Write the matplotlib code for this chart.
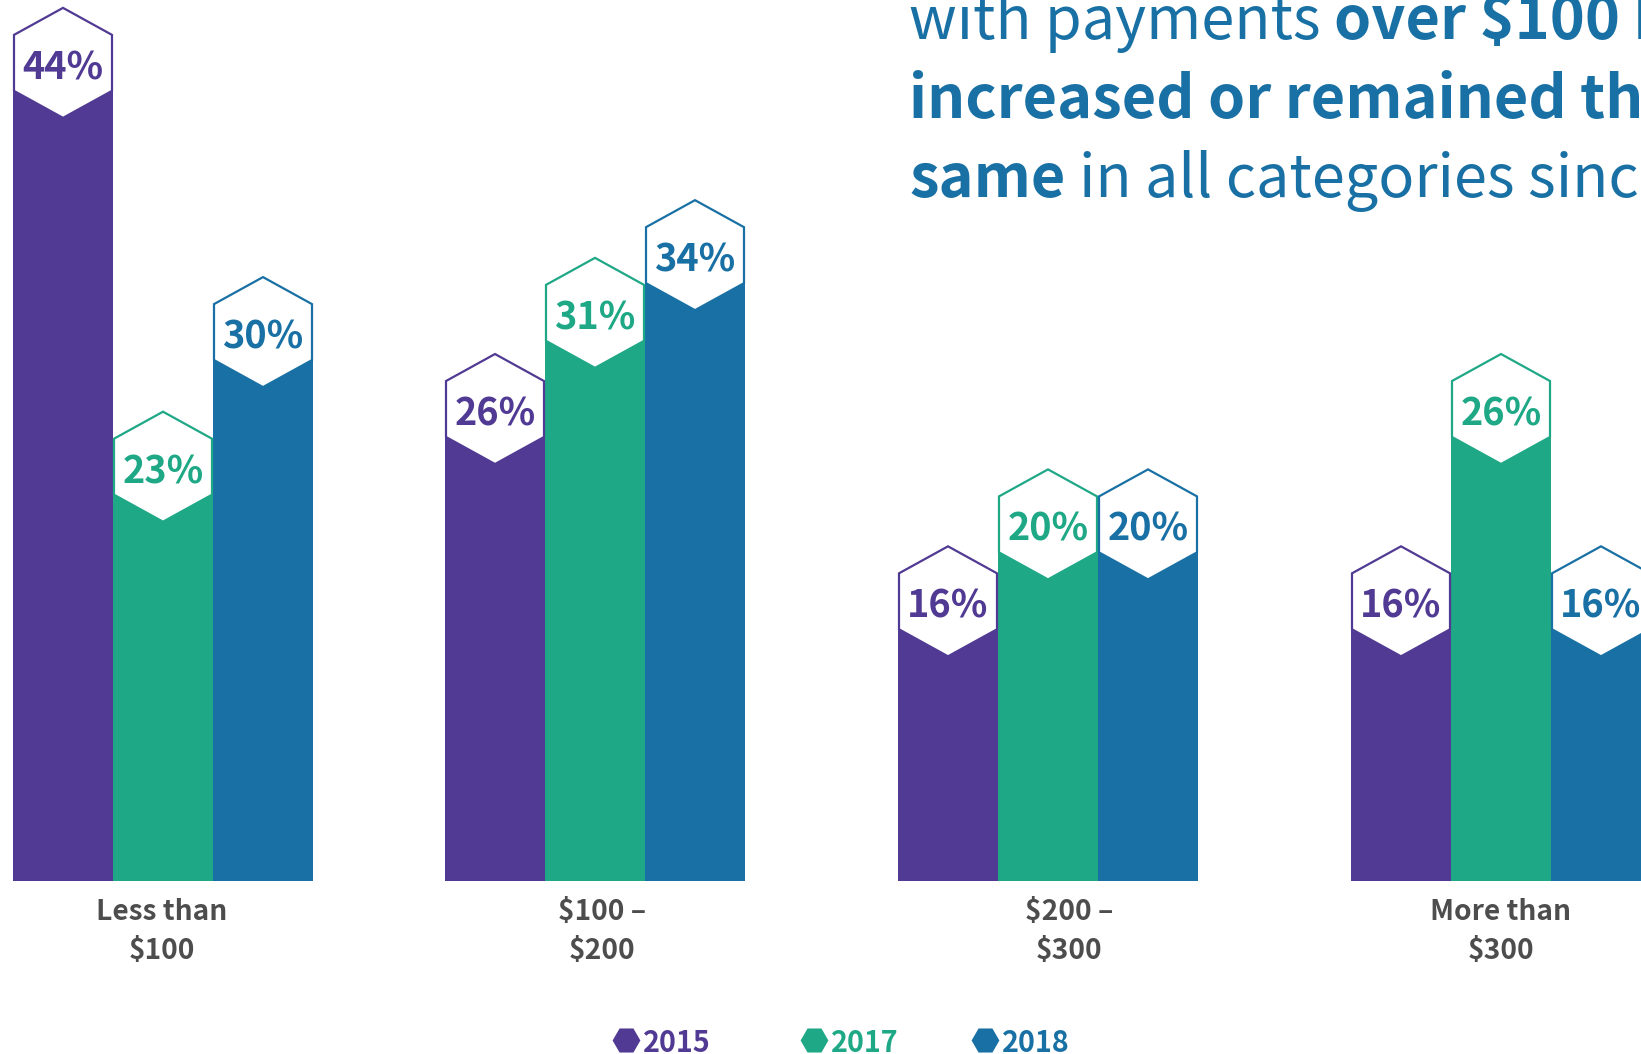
import matplotlib
matplotlib.use("Agg")
import matplotlib.pyplot as plt
from matplotlib.patches import Polygon

plt.rcParams['font.family'] = ['Noto Sans CJK SC', 'DejaVu Sans']

# --- data ---
categories = ["Less than\n$100", "$100 –\n$200", "$200 –\n$300", "More than\n$300"]
years = ["2015", "2017", "2018"]
share_2015 = [44, 26, 16, 16]
share_2017 = [23, 31, 20, 26]
share_2018 = [30, 34, 20, 16]
series = [share_2015, share_2017, share_2018]
colors = ["#503a93", "#1ea886", "#1870a4"]
text_grey = "#4d4d4d"

title_lines = [
    [("with payments", "light"), ("over $100 have", "bold")],
    [("increased or remained the", "bold")],
    [("same", "bold"), ("in all categories since 2015.", "light")],
]

# --- layout (pixels) ---
W, H = 1641, 1054
base_px = 881          # y of the bar baseline
px_per_pct = 19.23     # bar height per percentage point
group_left = [13, 445, 898, 1351]
label_x = [162, 602, 1069, 1501]
bar_w = 100

fig = plt.figure(figsize=(W / 100, H / 100), dpi=100)
ax = fig.add_axes([0, 0, 1, 1])
ax.set_xlim(0, W)
ax.set_ylim(-(H - base_px) / px_per_pct, base_px / px_per_pct)
ax.axis('off')


def py(y_px):
    # pixel row (from top) -> data y
    return (base_px - y_px) / px_per_pct


def dy(n_px):
    return n_px / px_per_pct


for i, (vals, col) in enumerate(zip(series, colors)):
    lefts = [g + i * bar_w for g in group_left]
    ax.bar(lefts, vals, width=bar_w, align='edge', color=col, linewidth=0, zorder=2)
    for x0, v in zip(lefts, vals):
        cx = x0 + bar_w / 2
        hw = 49
        hexagon = [(cx, v + dy(27)), (cx + hw, v), (cx + hw, v - dy(56)),
                   (cx, v - dy(83)), (cx - hw, v - dy(56)), (cx - hw, v)]
        ax.add_patch(Polygon(hexagon, closed=True, facecolor='white',
                             edgecolor=col, linewidth=1.6, zorder=3,
                             joinstyle='miter'))
        ax.text(cx, v - dy(44.5), f"{v}%", color=col, fontsize=27.3,
                fontweight='bold', ha='center', va='baseline', zorder=4)

# category labels under each group
for lx, label in zip(label_x, categories):
    for k, line in enumerate(label.split("\n")):
        ax.text(lx, py(920 + 39 * k), line, color=text_grey, fontsize=20.3,
                fontweight='semibold', ha='center', va='baseline')

# legend along the bottom
legend_x = [626, 814, 985]
for lx, yr, col in zip(legend_x, years, colors):
    ax.plot([lx], [py(1040)], marker='H', markersize=20, color=col,
            markeredgewidth=0, clip_on=False)
    ax.text(lx + 17, py(1052), yr, color=col, fontsize=20.7, fontweight='bold',
            ha='left', va='baseline')

# headline text, mixed weights run by run
renderer = fig.canvas.get_renderer()
title_size = 42.8
title_col = colors[2]


def text_width(s, weight):
    t = ax.text(0, 0, s, fontsize=title_size, fontweight=weight)
    w = t.get_window_extent(renderer=renderer).width
    t.remove()
    return w


for k, runs in enumerate(title_lines):
    x = 909
    y = py(39 + 79 * k)
    for s, weight in runs:
        t = ax.text(x, y, s, fontsize=title_size, fontweight=weight,
                    color=title_col, ha='left', va='baseline')
        space = text_width("n n", weight) - text_width("nn", weight)
        x += t.get_window_extent(renderer=renderer).width + space

fig.savefig("out.png", dpi=100)
